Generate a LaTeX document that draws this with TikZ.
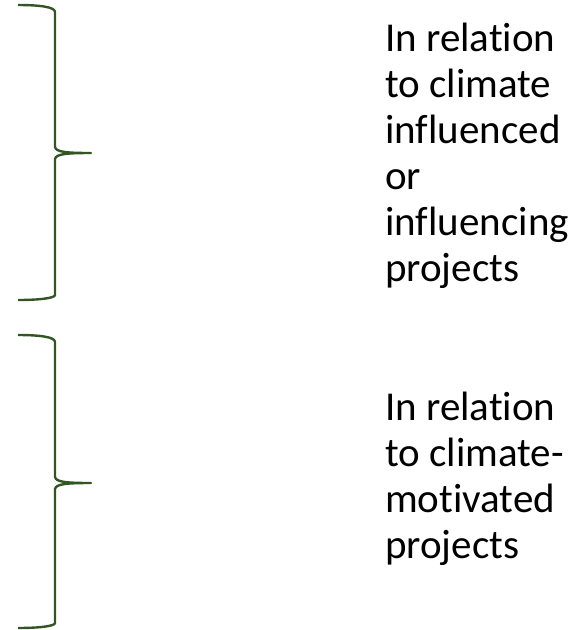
\documentclass[tikz,border=0pt]{standalone}
\usepackage{fontspec}
\setmainfont{Carlito}[Ligatures={NoCommon}]
\definecolor{bracegreen}{RGB}{50,85,35}
\begin{document}
\begin{tikzpicture}[x=1pt,y=-1pt,
  bracestyle/.style={draw=bracegreen,line width=2.4pt,line join=round},
  label/.style={anchor=north west,inner sep=0pt,align=left,
    font=\fontsize{41}{46}\selectfont}]
\useasboundingbox (0,0) rectangle (579,630);
% upper brace
\coordinate (b1top) at (18,5);
\coordinate (b1tip) at (91,153);
\coordinate (b1bot) at (18,300);
\draw[bracestyle] (b1top) .. controls (40,5) and (55,7) .. (55,12)
  -- (55,147) .. controls (56,152) and (66,153) .. (b1tip)
  .. controls (66,153) and (56,154) .. (55,159)
  -- (55,295) .. controls (55,298) and (40,300) .. (b1bot);
% lower brace
\coordinate (b2top) at (18,335);
\coordinate (b2tip) at (91,483);
\coordinate (b2bot) at (18,628);
\draw[bracestyle] (b2top) .. controls (40,335) and (55,337) .. (55,342)
  -- (55,477) .. controls (56,482) and (66,483) .. (b2tip)
  .. controls (66,483) and (56,484) .. (55,489)
  -- (55,623) .. controls (55,626) and (40,628) .. (b2bot);
% labels
\node[label] (t1) at (385,22.5) {In relation\\to climate\\influenced\\or\\influencing\\projects};
\node[label] (t2) at (385,391.5) {In relation\\to climate-\\motivated\\projects};
\end{tikzpicture}
\end{document}
